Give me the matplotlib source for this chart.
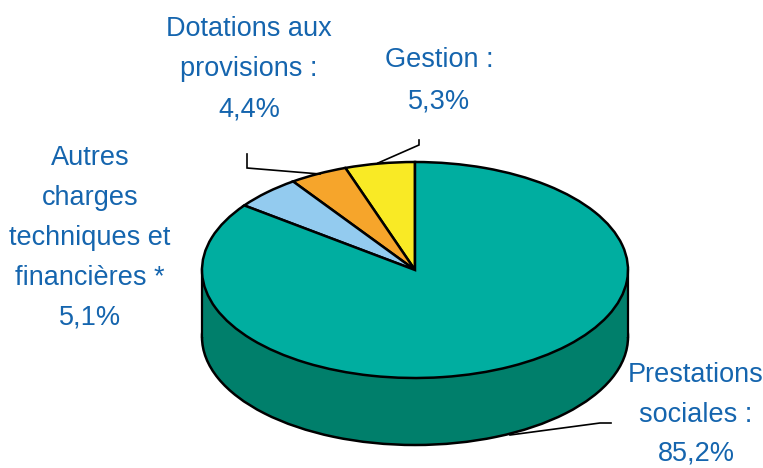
import matplotlib
matplotlib.use("Agg")
import matplotlib.pyplot as plt
from matplotlib.patches import Rectangle

# listed counter-clockwise from the top of the pie
categories = ["Gestion", "Dotations aux provisions",
              "Autres charges techniques et financières *", "Prestations sociales"]
values = [5.3, 4.4, 5.1, 85.2]
colors = ["#F9EA25", "#F6A52B", "#93CBEF", "#00AEA0"]
side_color = "#007F6B"
text_color = "#1565AE"

W, H = 763, 468
cx, cy, rx, ry, depth = 415, 270, 213, 108, 67

fig = plt.figure(figsize=(W / 100, H / 100), dpi=100)
ax = fig.add_axes([0, 0, 1, 1])

# one data unit = rx px horizontally and ry px vertically, so the pie is squashed
edge = dict(edgecolor="black", linewidth=1.8)
d = depth / ry
ax.pie([1], colors=[side_color], radius=1, center=(0, -d), wedgeprops=edge)
ax.add_patch(Rectangle((-1, -d), 2, d, facecolor=side_color, edgecolor="none", zorder=2))
ax.plot([-1, -1], [-d, 0], color="black", lw=1.6, zorder=2.5)
ax.plot([1, 1], [-d, 0], color="black", lw=1.6, zorder=2.5)
wedges, _ = ax.pie(values, colors=colors, radius=1, startangle=90, counterclock=True,
                   wedgeprops=edge)
for w in wedges:
    w.set_zorder(3)

ax.set_aspect("auto")
ax.set_xlim(-cx / rx, (W - cx) / rx)
ax.set_ylim((cy - H) / ry, cy / ry)
ax.axis("off")


def px(x, y):
    return (x - cx) / rx, (cy - y) / ry


def leader(points):
    xs, ys = zip(*[px(*p) for p in points])
    ax.plot(xs, ys, color="black", lw=1.2, zorder=4, solid_joinstyle="miter")


leader([(247, 154), (247, 168), (320, 174)])
leader([(419, 140), (419, 145), (378, 163)])
leader([(611, 423), (600, 423), (510, 435)])

labels = [
    (249, [("Dotations aux", 29), ("provisions :", 69), ("4,4%", 110)]),
    (439, [("Gestion :", 60), ("5,3%", 101)]),
    (90, [("Autres", 158), ("charges", 198), ("techniques et", 238), ("financières *", 278), ("5,1%", 318)]),
    (696, [("Prestations", 375), ("sociales :", 415), ("85,2%", 454)]),
]
for x, lines in labels:
    for line, y in lines:
        tx, ty = px(x, y)
        ax.text(tx, ty, line, ha="center", va="center", color=text_color,
                fontsize=19.5, family="Liberation Sans", zorder=5)

fig.savefig("out.png", dpi=100)
